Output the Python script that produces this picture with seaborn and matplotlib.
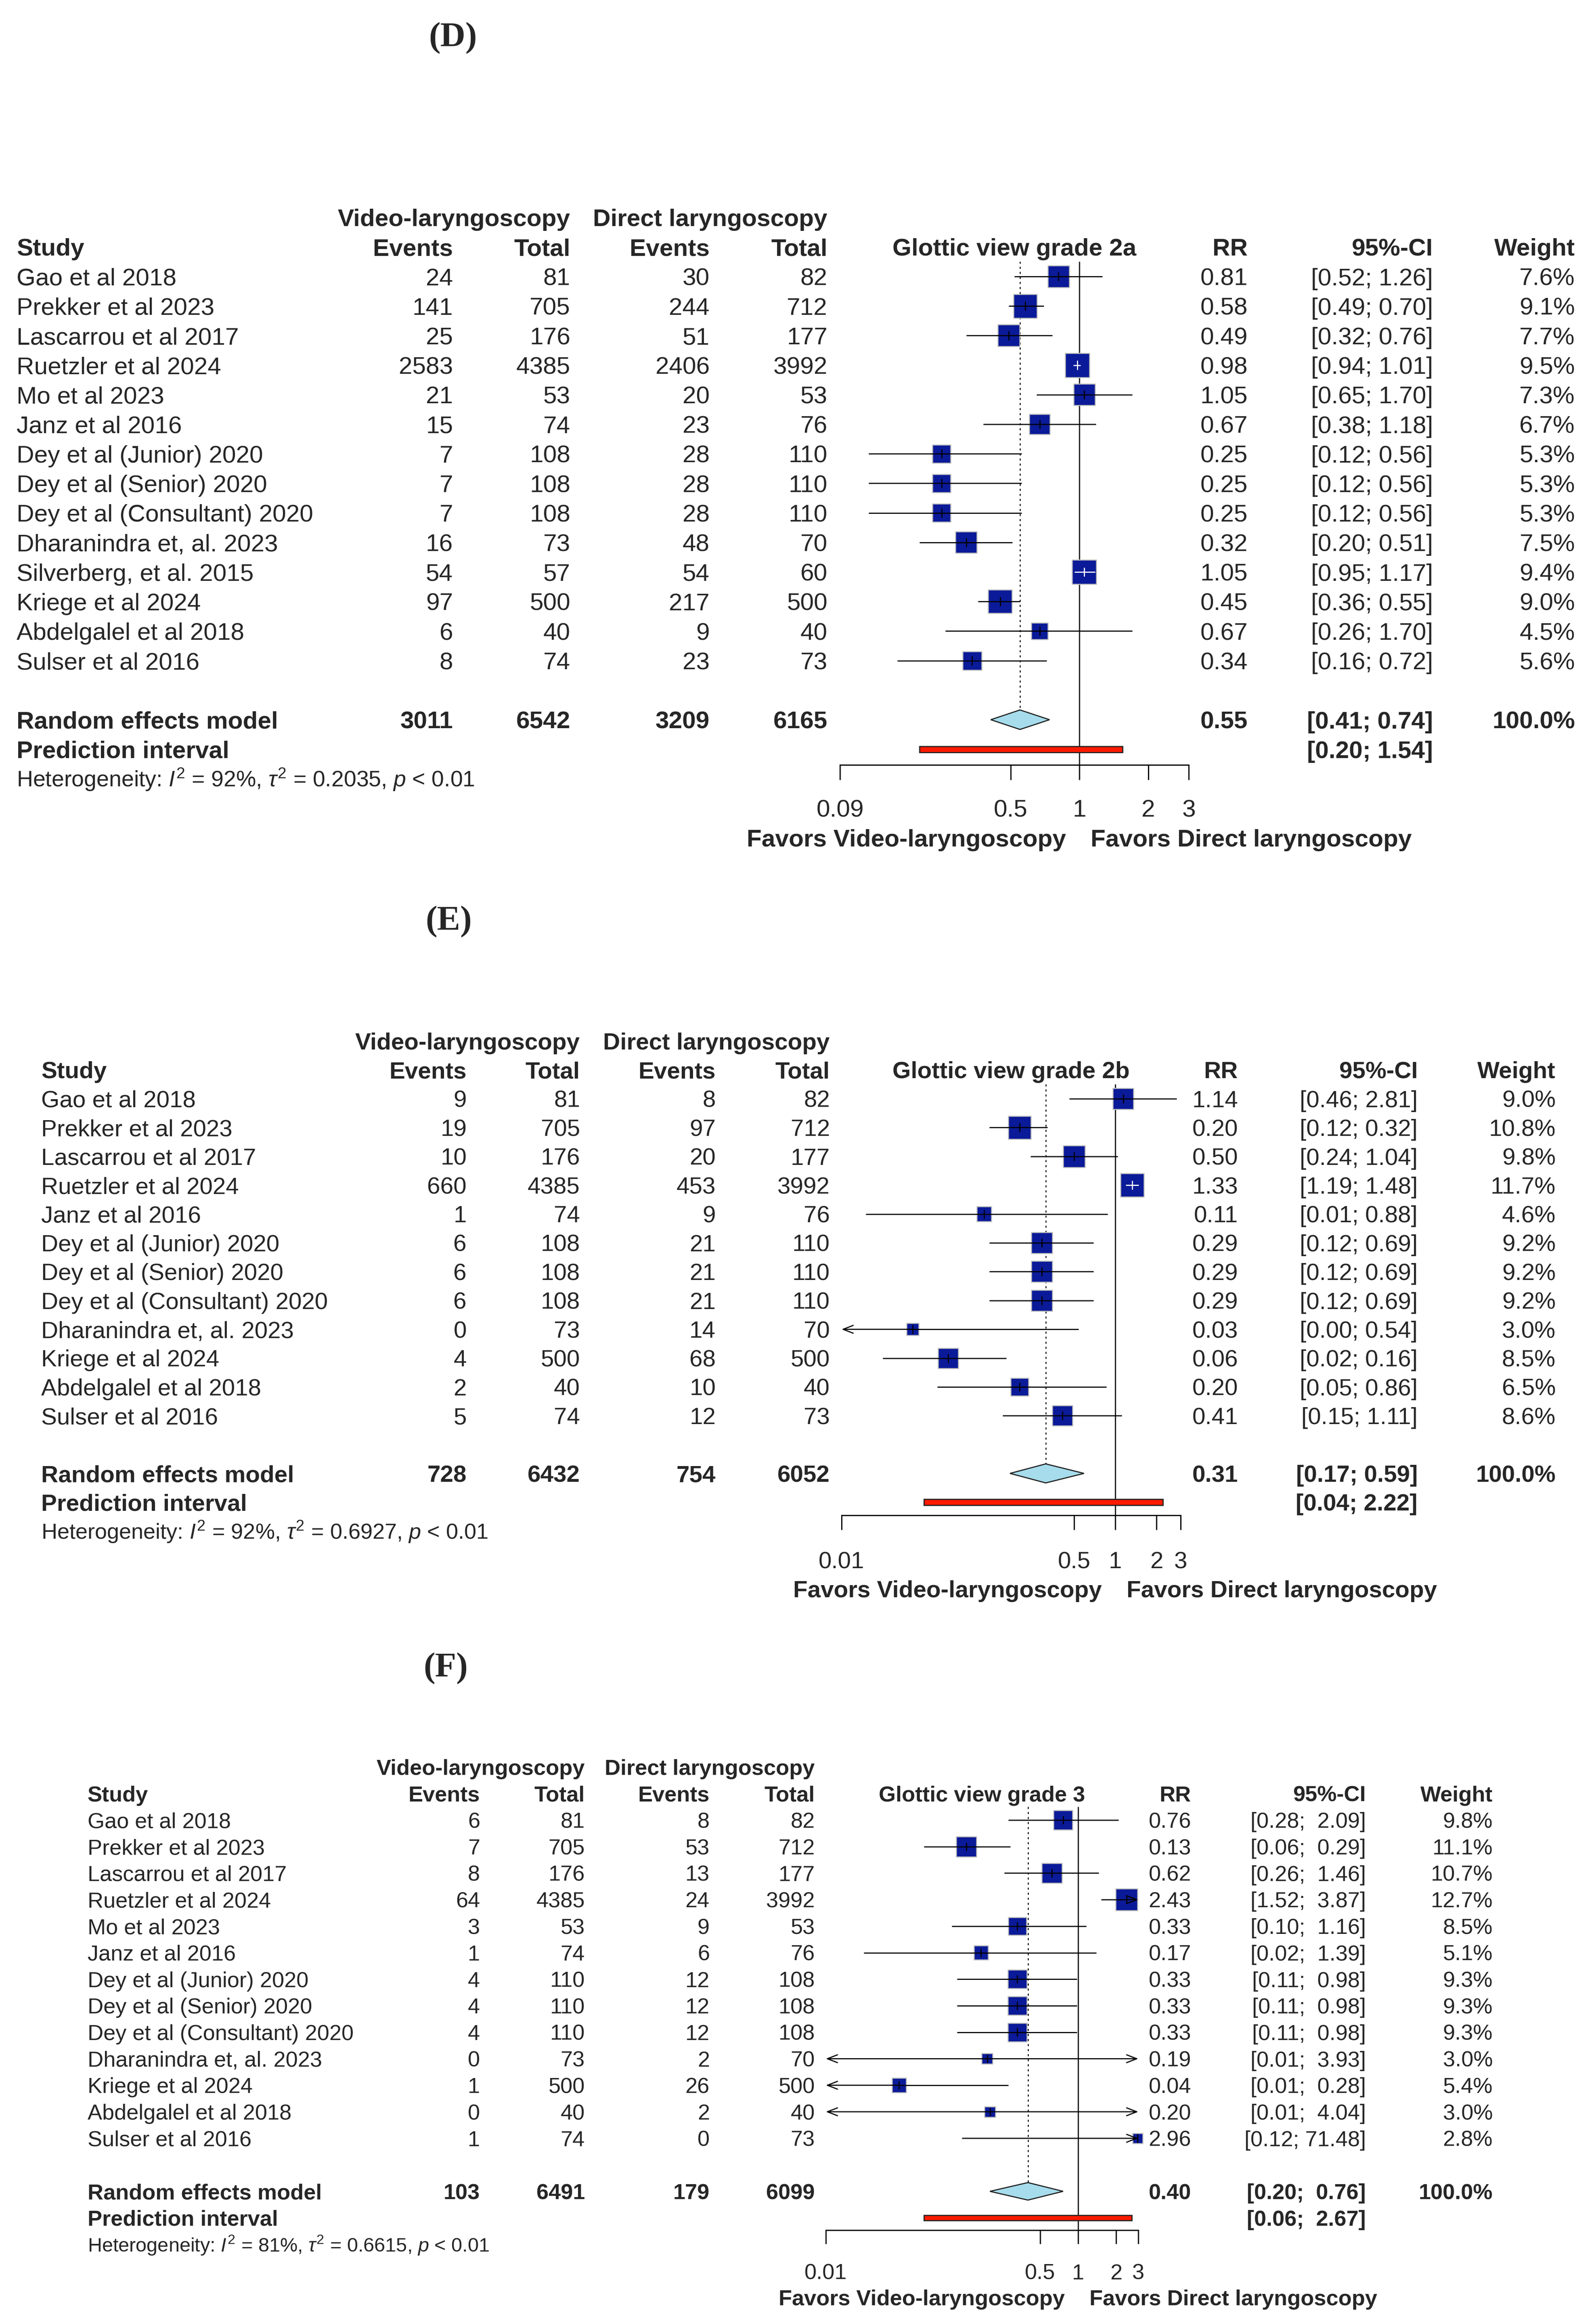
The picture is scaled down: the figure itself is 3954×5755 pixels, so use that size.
import numpy as np
import seaborn as sns
import matplotlib.pyplot as plt
import matplotlib.transforms as mtransforms

# ---- (D) Glottic view grade 2a
d_study = ["Gao et al 2018", "Prekker et al 2023", "Lascarrou et al 2017", "Ruetzler et al 2024",
           "Mo et al 2023", "Janz et al 2016", "Dey et al (Junior) 2020", "Dey et al (Senior) 2020",
           "Dey et al (Consultant) 2020", "Dharanindra et, al. 2023", "Silverberg, et al. 2015",
           "Kriege et al 2024", "Abdelgalel et al 2018", "Sulser et al 2016"]
d_vl_events = [24, 141, 25, 2583, 21, 15, 7, 7, 7, 16, 54, 97, 6, 8]
d_vl_total = [81, 705, 176, 4385, 53, 74, 108, 108, 108, 73, 57, 500, 40, 74]
d_dl_events = [30, 244, 51, 2406, 20, 23, 28, 28, 28, 48, 54, 217, 9, 23]
d_dl_total = [82, 712, 177, 3992, 53, 76, 110, 110, 110, 70, 60, 500, 40, 73]
d_rr = [0.81, 0.58, 0.49, 0.98, 1.05, 0.67, 0.25, 0.25, 0.25, 0.32, 1.05, 0.45, 0.67, 0.34]
d_lo = [0.52, 0.49, 0.32, 0.94, 0.65, 0.38, 0.12, 0.12, 0.12, 0.20, 0.95, 0.36, 0.26, 0.16]
d_hi = [1.26, 0.70, 0.76, 1.01, 1.70, 1.18, 0.56, 0.56, 0.56, 0.51, 1.17, 0.55, 1.70, 0.72]
d_weight = [7.6, 9.1, 7.7, 9.5, 7.3, 6.7, 5.3, 5.3, 5.3, 7.5, 9.4, 9.0, 4.5, 5.6]
d_summary = ["3011", "6542", "3209", "6165"]
d_re = [0.55, 0.41, 0.74]
d_pi = [0.20, 1.54]
d_het = ["92%", "0.2035"]

# ---- (E) Glottic view grade 2b
e_study = ["Gao et al 2018", "Prekker et al 2023", "Lascarrou et al 2017", "Ruetzler et al 2024",
           "Janz et al 2016", "Dey et al (Junior) 2020", "Dey et al (Senior) 2020",
           "Dey et al (Consultant) 2020", "Dharanindra et, al. 2023", "Kriege et al 2024",
           "Abdelgalel et al 2018", "Sulser et al 2016"]
e_vl_events = [9, 19, 10, 660, 1, 6, 6, 6, 0, 4, 2, 5]
e_vl_total = [81, 705, 176, 4385, 74, 108, 108, 108, 73, 500, 40, 74]
e_dl_events = [8, 97, 20, 453, 9, 21, 21, 21, 14, 68, 10, 12]
e_dl_total = [82, 712, 177, 3992, 76, 110, 110, 110, 70, 500, 40, 73]
e_rr = [1.14, 0.20, 0.50, 1.33, 0.11, 0.29, 0.29, 0.29, 0.033, 0.06, 0.20, 0.41]
e_lo = [0.46, 0.12, 0.24, 1.19, 0.015, 0.12, 0.12, 0.12, 0.002, 0.02, 0.05, 0.15]
e_hi = [2.81, 0.32, 1.04, 1.48, 0.88, 0.69, 0.69, 0.69, 0.54, 0.16, 0.86, 1.11]
e_weight = [9.0, 10.8, 9.8, 11.7, 4.6, 9.2, 9.2, 9.2, 3.0, 8.5, 6.5, 8.6]
e_ci_text = ["[0.46; 2.81]", "[0.12; 0.32]", "[0.24; 1.04]", "[1.19; 1.48]", "[0.01; 0.88]",
             "[0.12; 0.69]", "[0.12; 0.69]", "[0.12; 0.69]", "[0.00; 0.54]", "[0.02; 0.16]",
             "[0.05; 0.86]", "[0.15; 1.11]"]
e_rr_text = ["1.14", "0.20", "0.50", "1.33", "0.11", "0.29", "0.29", "0.29", "0.03", "0.06", "0.20", "0.41"]
e_summary = ["728", "6432", "754", "6052"]
e_re = [0.31, 0.17, 0.59]
e_pi = [0.04, 2.22]
e_het = ["92%", "0.6927"]

# ---- (F) Glottic view grade 3
f_study = ["Gao et al 2018", "Prekker et al 2023", "Lascarrou et al 2017", "Ruetzler et al 2024",
           "Mo et al 2023", "Janz et al 2016", "Dey et al (Junior) 2020", "Dey et al (Senior) 2020",
           "Dey et al (Consultant) 2020", "Dharanindra et, al. 2023", "Kriege et al 2024",
           "Abdelgalel et al 2018", "Sulser et al 2016"]
f_vl_events = [6, 7, 8, 64, 3, 1, 4, 4, 4, 0, 1, 0, 1]
f_vl_total = [81, 705, 176, 4385, 53, 74, 110, 110, 110, 73, 500, 40, 74]
f_dl_events = [8, 53, 13, 24, 9, 6, 12, 12, 12, 2, 26, 2, 0]
f_dl_total = [82, 712, 177, 3992, 53, 76, 108, 108, 108, 70, 500, 40, 73]
f_rr = [0.76, 0.13, 0.62, 2.43, 0.33, 0.17, 0.33, 0.33, 0.33, 0.19, 0.038, 0.20, 2.96]
f_lo = [0.28, 0.06, 0.26, 1.52, 0.10, 0.02, 0.11, 0.11, 0.11, 0.009, 0.008, 0.009, 0.12]
f_hi = [2.09, 0.29, 1.46, 3.87, 1.16, 1.39, 0.98, 0.98, 0.98, 3.93, 0.28, 4.04, 71.48]
f_weight = [9.8, 11.1, 10.7, 12.7, 8.5, 5.1, 9.3, 9.3, 9.3, 3.0, 5.4, 3.0, 2.8]
f_ci_text = ["[0.28;  2.09]", "[0.06;  0.29]", "[0.26;  1.46]", "[1.52;  3.87]", "[0.10;  1.16]",
             "[0.02;  1.39]", "[0.11;  0.98]", "[0.11;  0.98]", "[0.11;  0.98]", "[0.01;  3.93]",
             "[0.01;  0.28]", "[0.01;  4.04]", "[0.12; 71.48]"]
f_rr_text = ["0.76", "0.13", "0.62", "2.43", "0.33", "0.17", "0.33", "0.33", "0.33", "0.19", "0.04", "0.20", "2.96"]
f_summary = ["103", "6491", "179", "6099"]
f_re = [0.40, 0.20, 0.76]
f_pi = [0.06, 2.67]
f_het = ["81%", "0.6615"]

W, H, DPI = 3955, 5755, 100
PX = DPI / 72.0  # pixels per point
BOX = 0.82       # biggest square side, as a share of the row step

sns.set_style("white")
plt.rcParams['font.family'] = ['Liberation Sans', 'DejaVu Sans']
plt.rcParams['mathtext.fontset'] = 'custom'
plt.rcParams['mathtext.rm'] = 'Liberation Sans'
plt.rcParams['mathtext.it'] = 'Liberation Sans:italic'

fig = plt.figure(figsize=(W / DPI, H / DPI), dpi=DPI)

NAVY = '#0A1A98'


def fmt_ci(lo, hi):
    return "[%.2f; %.2f]" % (lo, hi)


def draw_panel(p):
    n = len(p['study'])
    row0, step, axis_px = p['row0'], p['step'], p['axis_px']
    x0, x1 = p['x0'], p['x1']
    xmin, xmax = p['xlim']
    fs = p['fs']
    top_row = -2.6
    axis_row = (axis_px - row0) / step
    ax = fig.add_axes([x0 / W, 1 - axis_px / H, (x1 - x0) / W, (axis_px - (row0 + top_row * step)) / H])
    ax.set_xscale('log')
    ax.set_xlim(xmin, xmax)
    ax.set_ylim(axis_row, top_row)
    for s in ['left', 'top', 'right']:
        ax.spines[s].set_visible(False)
    ax.spines['bottom'].set_linewidth(2.2)
    ax.spines['bottom'].set_color('black')
    ax.set_yticks([])
    ax.set_xticks(p['ticks'])
    ax.set_xticklabels(p['ticklabels'])
    ax.minorticks_off()
    pad = (p['lab_px'] - p['tick_len'] - 0.358 * fs * PX) / PX
    ax.tick_params(axis='x', direction='out', length=p['tick_len'] / PX, width=2.2,
                   pad=pad, labelsize=fs, bottom=True, color='black')
    ax.patch.set_alpha(0)

    rows = np.arange(n)
    rr, lo, hi, wt = np.array(p['rr']), np.array(p['lo']), np.array(p['hi']), np.array(p['weight'])

    # reference lines
    ax.vlines(1, -0.5, axis_row, color='black', lw=2.0, zorder=1)
    ax.vlines(p['re'][0], -0.5, n + 1 - 0.33, color='black', lw=1.8,
              linestyles=(0, (2, 3)), zorder=1)

    # squares (area proportional to weight)
    side_max = BOX * step / PX
    sns.scatterplot(x=rr, y=rows, size=wt, sizes=(0, side_max ** 2), size_norm=(0, wt.max()),
                    marker='s', color=NAVY, edgecolor='#BDBDBD', linewidth=1.8,
                    legend=False, ax=ax, zorder=3, clip_on=False)

    # confidence intervals
    ppu = (x1 - x0) / (np.log(xmax) - np.log(xmin))
    for i in range(n):
        half = 0.5 * 0.70 * step * np.sqrt(wt[i] / wt.max())
        inside = (np.log(rr[i] / lo[i]) * ppu < half * 1.1) and (np.log(hi[i] / rr[i]) * ppu < half * 1.1)
        col = 'white' if inside else 'black'
        for end, lim in ((lo[i], xmin), (hi[i], xmax)):
            if (end < lim and lim == xmin) or (end > lim and lim == xmax):
                ax.annotate('', xy=(lim, i), xytext=(rr[i], i),
                            arrowprops=dict(arrowstyle='->,head_length=0.9,head_width=0.35',
                                            mutation_scale=20, lw=2.0, color=col,
                                            shrinkA=0, shrinkB=0), zorder=4)
            else:
                ax.plot([rr[i], end], [i, i], color=col, lw=2.0, zorder=4, solid_capstyle='butt')
        ax.plot([rr[i], rr[i]], [i - 0.14, i + 0.14], color=col, lw=2.0, zorder=4)

    # summary diamond and prediction interval
    est, rlo, rhi = p['re']
    yd = n + 1
    ax.fill([rlo, est, rhi, est], [yd, yd - 0.33, yd, yd + 0.33], facecolor='#A6DCEB',
            edgecolor='#222222', lw=2.0, zorder=3)
    yp = n + 2
    ax.fill([p['pi'][0], p['pi'][1], p['pi'][1], p['pi'][0]],
            [yp - 0.1, yp - 0.1, yp + 0.1, yp + 0.1], facecolor='#FF1A00',
            edgecolor='#222222', lw=2.0, zorder=3)

    tr = mtransforms.blended_transform_factory(fig.transFigure, ax.transData)

    def put(xp, row, s, ha='right', bold=False, size=fs, trans=None):
        off = mtransforms.ScaledTranslation(0, -0.358 * size / 72, fig.dpi_scale_trans)
        t = (trans if trans is not None else tr) + off
        xx = xp / W if trans is None else xp
        ax.text(xx, row, s, transform=t, ha=ha, va='baseline', fontsize=size,
                fontweight='bold' if bold else 'normal', clip_on=False)

    c = p['cols']
    # headers
    put(c['vt'], -2, "Video-laryngoscopy", bold=True)
    put(c['dt'], -2, "Direct laryngoscopy", bold=True)
    put(c['study'], -1, "Study", ha='left', bold=True)
    put(c['ve'], -1, "Events", bold=True)
    put(c['vt'], -1, "Total", bold=True)
    put(c['de'], -1, "Events", bold=True)
    put(c['dt'], -1, "Total", bold=True)
    put(c['rr'], -1, "RR", bold=True)
    put(c['ci'], -1, "95%-CI", bold=True)
    put(c['wt'], -1, "Weight", bold=True)
    put(0.5, -1, p['title'], ha='center', bold=True,
        trans=mtransforms.blended_transform_factory(ax.transAxes, ax.transData))

    for i in range(n):
        put(c['study'], i, p['study'][i], ha='left')
        put(c['ve'], i, str(p['ve'][i]))
        put(c['vt'], i, str(p['vt'][i]))
        put(c['de'], i, str(p['de'][i]))
        put(c['dt'], i, str(p['dt'][i]))
        put(c['rr'], i, p['rr_text'][i])
        put(c['ci'], i, p['ci_text'][i])
        put(c['wt'], i, "%.1f%%" % wt[i])

    put(c['study'], yd, "Random effects model", ha='left', bold=True)
    for key, val in zip(['ve', 'vt', 'de', 'dt'], p['summary']):
        put(c[key], yd, val, bold=True)
    put(c['rr'], yd, "%.2f" % est, bold=True)
    put(c['ci'], yd, p['ci_fmt'](rlo, rhi), bold=True)
    put(c['wt'], yd, "100.0%", bold=True)
    put(c['study'], yp, "Prediction interval", ha='left', bold=True)
    put(c['ci'], yp, p['ci_fmt'](*p['pi']), bold=True)
    put(c['study'], n + 3,
        r"Heterogeneity: $I^2$ = %s, $\tau^2$ = %s, $p$ < 0.01" % (p['het'][0], p['het'][1]),
        ha='left', size=p['het_fs'])

    # favours labels
    fav_row = n + 5
    for s, ha, dx in (("Favors Video-laryngoscopy", 'right', -33), ("Favors Direct laryngoscopy", 'left', 28)):
        off = mtransforms.ScaledTranslation(dx / DPI, -0.358 * fs / 72, fig.dpi_scale_trans)
        ax.text(1, fav_row, s, transform=ax.transData + off, ha=ha, va='baseline',
                fontsize=fs, fontweight='bold', clip_on=False)

    fig.text(p['label_xy'][0] / W, 1 - p['label_xy'][1] / H, p['label'], ha='center', va='center',
             fontsize=62, fontweight='bold', family=['Liberation Serif', 'DejaVu Serif'])


panels = [
    dict(label="(D)", label_xy=(1122, 94), title="Glottic view grade 2a",
         study=d_study, ve=d_vl_events, vt=d_vl_total, de=d_dl_events, dt=d_dl_total,
         rr=d_rr, lo=d_lo, hi=d_hi, weight=d_weight,
         rr_text=["%.2f" % v for v in d_rr], ci_text=[fmt_ci(a, b) for a, b in zip(d_lo, d_hi)],
         summary=d_summary, re=d_re, pi=d_pi, het=d_het, ci_fmt=fmt_ci,
         row0=685, step=73.2, axis_px=1895, x0=2081, x1=2945, xlim=(0.09, 3),
         ticks=[0.09, 0.5, 1, 2, 3], ticklabels=["0.09", "0.5", "1", "2", "3"],
         tick_len=37, lab_px=107, fs=43.5, het_fs=40,
         cols=dict(study=41, ve=1122, vt=1413, de=1758, dt=2050, rr=3091, ci=3550, wt=3902)),
    dict(label="(E)", label_xy=(1112, 2283), title="Glottic view grade 2b",
         study=e_study, ve=e_vl_events, vt=e_vl_total, de=e_dl_events, dt=e_dl_total,
         rr=e_rr, lo=e_lo, hi=e_hi, weight=e_weight,
         rr_text=e_rr_text, ci_text=e_ci_text,
         summary=e_summary, re=e_re, pi=e_pi, het=e_het, ci_fmt=fmt_ci,
         row0=2722, step=71.4, axis_px=3754, x0=2085, x1=2925, xlim=(0.01, 3),
         ticks=[0.01, 0.5, 1, 2, 3], ticklabels=["0.01", "0.5", "1", "2", "3"],
         tick_len=36, lab_px=110, fs=42, het_fs=39,
         cols=dict(study=102, ve=1156, vt=1437, de=1773, dt=2056, rr=3067, ci=3512, wt=3854)),
    dict(label="(F)", label_xy=(1104, 4133), title="Glottic view grade 3",
         study=f_study, ve=f_vl_events, vt=f_vl_total, de=f_dl_events, dt=f_dl_total,
         rr=f_rr, lo=f_lo, hi=f_hi, weight=f_weight,
         rr_text=f_rr_text, ci_text=f_ci_text,
         summary=f_summary, re=f_re, pi=f_pi, het=f_het,
         ci_fmt=lambda a, b: "[%.2f;  %.2f]" % (a, b),
         row0=4509, step=65.7, axis_px=5525, x0=2046, x1=2820, xlim=(0.01, 3),
         ticks=[0.01, 0.5, 1, 2, 3], ticklabels=["0.01", "0.5", "1", "2", "3"],
         tick_len=34, lab_px=102, fs=39, het_fs=35,
         cols=dict(study=217, ve=1189, vt=1449, de=1758, dt=2019, rr=2951, ci=3384, wt=3698)),
]

for p in panels:
    draw_panel(p)

fig.savefig("out.png", dpi=DPI, facecolor='white')
